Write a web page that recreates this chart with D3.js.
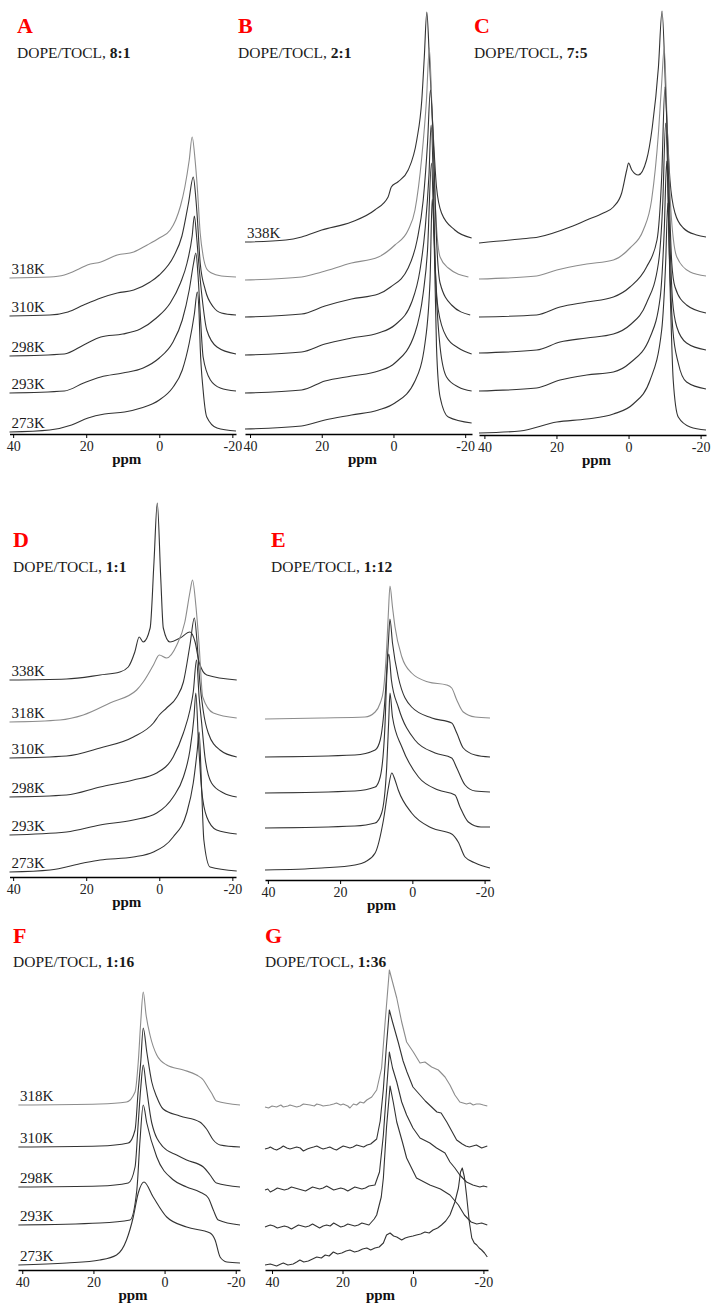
<!DOCTYPE html>
<html>
<head>
<meta charset="utf-8">
<script src="https://cdn.jsdelivr.net/npm/d3@7"></script>
<style>
  body { margin: 0; background: #fff; }
  svg { display: block; font-family: "Liberation Serif", "Times New Roman", serif; }
</style>
</head>
<body>
<script>
// 31P NMR spectra, [ppm, intensity]

// A: DOPE/TOCL 8:1
const specA318 = [[41,0],[30,1],[26,3],[22,9],[19.7,13],[16,16],[11.5,23],[7,26],[3.3,33],[0,40],[-3,48],[-4.5,58],[-5.8,72],[-7,91],[-8.2,118],[-9,141],[-9.8,118],[-10.4,91],[-11.2,45],[-12,22],[-13,9],[-14.3,5],[-17,2],[-21,1]];
const specA310 = [[41,0],[30,1],[25,4],[20.7,11],[16,18],[11.5,23],[7,26],[2.5,34],[0,41],[-4,60],[-6.2,80],[-8,113],[-9.3,139],[-10,118],[-10.4,99],[-11.2,53],[-12.6,26],[-14.8,9],[-17,3],[-21,1]];
const specA298 = [[41,0],[26,2],[20.7,11],[16,19],[10,22],[5.2,27],[0.8,38],[-3,53],[-5.8,73],[-7.6,93],[-9,120],[-9.6,140],[-10.2,120],[-10.8,93],[-11.7,59],[-13,26],[-15.8,9],[-21,2]];
const specA293 = [[41,0],[26,2],[20.7,10],[16,16],[10,20],[4.4,25],[0,35],[-3.6,50],[-6.3,73],[-8.2,103],[-9.4,130],[-10,140],[-10.6,118],[-11.2,80],[-12,36],[-14,13],[-16.7,5],[-21,2]];
const specA273 = [[41,0],[30,2],[24,7],[19.5,14],[15,18],[9.5,20],[5,24],[0,32],[-3.6,44],[-6.3,62],[-8.2,89],[-9.6,118],[-10.4,140],[-10.9,118],[-11.2,85],[-12,42],[-13,15],[-15.8,4],[-21,1]];
const offsetsA = [156, 118, 78, 41, 2];

// B: DOPE/TOCL 2:1
const specB338 = [[41.4,0],[30,2],[25.6,5],[20,12],[11.7,20],[5.2,32],[1.5,45],[0.6,55],[-1.2,60],[-4.1,72],[-6.5,102],[-7.9,142],[-8.6,185],[-9.3,230],[-10,185],[-10.6,142],[-11.2,100],[-12,55],[-13.4,29],[-17.1,12],[-21.8,4]];
const specB318 = [[41.4,0],[25.6,3],[20,8],[11.7,17],[4.2,23],[-0.4,35],[-4.1,50],[-6,70],[-7.9,123],[-9.2,180],[-10,232],[-10.8,163],[-11.6,80],[-13,23],[-15.3,12],[-20.9,3]];
const specB310 = [[41.4,0],[25.6,3],[19.1,11],[11.7,18],[4.2,23],[0.8,30],[-4.1,49],[-6.6,77],[-8.3,117],[-9.5,174],[-10.3,227],[-11.2,167],[-11.9,87],[-13,34],[-16.2,12],[-21.4,2]];
const specB298 = [[41.4,0],[25.6,3],[19.1,11],[11.7,17],[4.2,22],[-0.4,30],[-5.1,53],[-7.4,85],[-8.8,125],[-9.9,180],[-10.5,230],[-11.2,160],[-11.6,92],[-12.5,45],[-14.8,18],[-18.1,7],[-21.8,1]];
const specB293 = [[41.4,0],[25.6,3],[19.1,12],[11.7,17],[4.2,22],[-0.4,30],[-6,60],[-8.3,100],[-9.5,143],[-10.6,230],[-11.3,160],[-12,96],[-13,46],[-14.8,16],[-18.1,6],[-21.8,2]];
const specB273 = [[41.4,0],[25.6,3],[19.1,9],[11.7,14],[4.2,19],[-0.4,26],[-6,48],[-8.8,86],[-10.2,149],[-10.8,230],[-11.4,179],[-12,82],[-13,32],[-15.3,12],[-21.8,6]];
const offsetsB = [192, 154, 117, 79, 41, 5];

// C: DOPE/TOCL 7:5
const specC338 = [[41.5,0],[30,4],[25,6],[16.2,16],[11.6,23],[7,30],[4.2,36],[1.9,50],[0.5,73],[0,80],[-0.9,73],[-2.7,68],[-5,83],[-6.6,116],[-8.3,176],[-9.3,232],[-10.4,143],[-11.5,63],[-12.9,30],[-15.2,15],[-18.9,8],[-21.5,6]];
const specC318 = [[41.5,0],[25.5,3],[19.9,9],[11.6,15],[4.2,19],[-0.4,31],[-4.1,49],[-6.4,79],[-8.3,146],[-9.2,196],[-9.9,231],[-10.8,146],[-11.7,72],[-13.4,22],[-17.1,7],[-21.5,3]];
const specC310 = [[41.5,0],[25.5,2],[19,10],[11.6,15],[4.2,20],[-0.4,30],[-5,50],[-7.9,77],[-9.2,140],[-10.1,230],[-11.1,140],[-12,54],[-12.9,30],[-16.1,12],[-21.5,4]];
const specC298 = [[41.5,0],[25.5,3],[19,11],[11.6,15],[4.2,19],[-0.4,28],[-5,50],[-8.3,90],[-9.5,150],[-10.3,230],[-11.2,140],[-12.2,53],[-13.4,26],[-16.1,10],[-21.5,3]];
const specC293 = [[41.5,0],[25.5,3],[19,11],[11.6,16],[4.2,19],[-0.4,28],[-6,54],[-8.8,94],[-9.9,160],[-10.6,230],[-11.3,140],[-12.3,61],[-13.8,28],[-16.1,9],[-21.5,2]];
const specC273 = [[41.5,0],[30.1,2],[19.9,11],[11.6,14],[4.2,19],[-1.3,29],[-6,53],[-9.2,103],[-10.3,170],[-10.9,230],[-11.5,150],[-12.4,53],[-13.8,16],[-17.1,6],[-21.5,3]];
const offsetsC = [192, 156, 118, 82, 44, 2];

// D: DOPE/TOCL 1:1
const specD338 = [[41,0],[25.4,1],[16.2,5],[10.8,8],[8.5,13],[6.7,28],[5.5,43],[4.4,38],[2.5,52],[1.45,118],[0.55,177],[-0.4,102],[-1.1,52],[-2.9,38],[-5.7,42],[-8.4,48],[-9.8,38],[-10.9,18],[-13,5],[-21.2,0]];
const specD318 = [[41,0],[27.2,2],[20.8,7],[13.5,19],[6.2,32],[4.4,40],[1.6,57],[0,67],[-2,64],[-4.8,77],[-7,100],[-8.4,130],[-9.1,142],[-10,117],[-10.9,77],[-11.9,25],[-14.8,9],[-21.2,4]];
const specD310 = [[41,0],[25.4,2],[16.2,10],[7.1,21],[1.6,35],[0,43],[-2,50],[-4.8,61],[-6.6,76],[-8.4,113],[-9.6,140],[-10.4,113],[-11.1,76],[-12,48],[-13.4,25],[-16.6,8],[-21.2,1]];
const specD298 = [[41,0],[25.4,2],[16.2,10],[7.1,17],[0.7,24],[-3.8,40],[-6.6,64],[-8.4,87],[-9.3,105],[-10.2,137],[-10.9,100],[-11.6,74],[-12.5,40],[-14.3,14],[-17.6,4],[-21.2,0]];
const specD293 = [[41,0],[25.4,3],[16.2,10],[7.1,15],[0.7,22],[-3.8,38],[-6.6,58],[-8.4,85],[-9.5,118],[-10,142],[-10.7,95],[-11.6,45],[-13,18],[-15.7,5],[-21.2,1]];
const specD273 = [[41,0],[29.9,2],[20.8,9],[16.2,12],[7.1,15],[1.6,20],[-3.8,35],[-7.5,59],[-9.3,89],[-10.4,122],[-10.9,140],[-11.6,82],[-12.2,32],[-13.9,5],[-21.2,1]];
const offsetsD = [197, 155, 119, 80, 42, 5];

// E: DOPE/TOCL 1:12
const specE318 = [[40.8,0],[25.1,1],[13.1,2],[10.3,7],[8.9,16],[8,29],[7.1,72],[6.6,109],[6.2,133],[5.5,112],[4.8,92],[2.9,62],[0.2,46],[-4.4,37],[-9.5,34],[-10.9,31],[-12.3,19],[-14.1,7],[-17.4,2],[-21.5,1]];
const specE310 = [[40.8,0],[15.9,2],[10.3,7],[8.9,17],[7.6,57],[6.6,117],[6.2,138],[5.5,114],[3.9,80],[0.2,50],[-5.4,39],[-10.9,34],[-12.3,24],[-14.1,9],[-17.4,2],[-21.5,0]];
const specE298 = [[40.8,0],[15.9,2],[10.3,6],[8.9,16],[7.6,66],[7,123],[6.5,139],[5.8,113],[3.9,86],[-0.7,53],[-6.3,40],[-10.9,35],[-12.3,25],[-14.6,8],[-17.4,2],[-21.5,1]];
const specE293 = [[40.8,0],[15.9,2],[10.3,5],[8.5,15],[7.1,61],[6.5,111],[6.2,135],[5.5,111],[2.9,81],[-1.7,51],[-7.2,38],[-11.8,33],[-13.2,21],[-15.5,6],[-19,1],[-21.5,1]];
const specE273 = [[40.8,0],[25.1,2],[15.9,5],[13.1,8],[10.3,17],[8,50],[6.6,83],[5.7,97],[4.8,90],[3.9,80],[0.2,57],[-5.4,42],[-10.9,36],[-12.7,28],[-14.6,13],[-17.4,7],[-21.5,2]];
const offsetsE = [161, 123, 87, 52, 10];

// F: DOPE/TOCL 1:16
const specF318 = [[41.1,0],[18.2,1],[10.7,3],[8.3,13],[7.4,43],[6.7,83],[6,113],[5.2,90],[4.1,70],[2.2,50],[-0.6,40],[-5.3,35],[-9,30],[-10.9,25],[-12.3,17],[-13.2,12],[-14.6,4],[-21.2,0]];
const specF310 = [[41.1,0],[18.2,1],[10.2,4],[8.3,17],[7.4,57],[6.7,85],[6,119],[5,95],[3.6,65],[2.2,50],[0.4,38],[-4.3,31],[-9.9,25],[-11.8,18],[-13.7,7],[-15.6,2],[-21.2,0]];
const specF298 = [[41.1,0],[18.2,1],[10.2,4],[8.3,20],[7.4,64],[6.7,99],[6,122],[5.2,102],[3.6,64],[0.4,40],[-3.4,32],[-6.2,27],[-10.9,20],[-12.8,12],[-14.6,4],[-21.2,0]];
const specF293 = [[41.1,0],[18.2,2],[9.7,5],[7.8,35],[6.9,85],[6,120],[5,102],[2.2,68],[-2.5,45],[-6.2,38],[-9.9,33],[-12.3,27],[-13.7,15],[-15.1,5],[-21.2,0]];
const specF273 = [[41.1,0],[27.5,2],[18.2,5],[13.5,10],[10.7,25],[8.8,48],[7.4,72],[5.8,83],[3.2,68],[-0.6,48],[-6.2,38],[-12.8,32],[-14.2,25],[-15.6,8],[-17.5,3],[-21.2,2]];
const offsetsF = [165, 123, 83, 45, 5];

// G: DOPE/TOCL 1:36 (noisy)
const specG318 = [[42,0],[41,-1],[40,1],[38.7,0],[37.5,2],[36.8,0],[35.5,1],[34.9,2],[33,0],[32,1],[31.1,3],[29.2,2],[28,1],[27.3,3],[26.2,2],[25.5,1],[23.6,2],[22.5,3],[21.7,4],[20.5,2],[19.8,3],[18.5,1],[17.9,-1],[16.9,3],[16,2],[15,5],[14,4],[13.1,7],[11.7,10],[10.3,17],[8.9,39],[7.9,85],[6.7,137],[5.8,125],[4.6,109],[3.2,85],[1.8,65],[-0.1,55],[-2,44],[-3.4,45],[-5.3,40],[-7.2,37],[-9.1,30],[-10.5,22],[-11.9,12],[-13.3,5],[-15.2,3],[-16.2,4],[-17.1,2],[-18,3],[-19,3],[-20,2],[-21.1,1]];
const specG310 = [[42,0],[41,1],[40.5,2],[39.5,0],[38.7,-1],[37.6,1],[36.8,3],[35.8,1],[34.9,0],[33,2],[32,1],[31.1,-2],[30,0],[29.2,1],[28.2,2],[27.3,3],[26.2,1],[25.5,0],[24.5,1],[23.6,2],[22.5,0],[21.7,-1],[20.8,1],[19.8,3],[18.8,2],[17.9,1],[17,2],[16,4],[15,3],[14,2],[13,4],[12,5],[10.3,10],[9.3,28],[8.4,60],[7.6,100],[6.7,139],[5.8,127],[4.2,107],[2.8,88],[1.7,77],[0,62],[-2,54],[-3.5,48],[-5,43],[-6.8,37],[-8,36],[-9.6,27],[-11,18],[-12.4,9],[-14,5],[-15,3],[-16,2],[-17,3],[-18,4],[-19.5,1],[-20.3,2],[-21.1,3]];
const specG298 = [[42,0],[41.2,1],[40.5,-2],[39.4,0],[38.5,2],[37.5,1],[36.5,0],[35.5,1],[34.5,3],[33.5,2],[32.5,1],[31.5,0],[30.5,-1],[29.5,1],[28.5,3],[27.5,2],[26.5,1],[25.5,2],[24.5,4],[23.5,2],[22.5,0],[21.5,1],[20.5,2],[19.5,1],[18.5,-1],[17.5,1],[16.5,3],[15.5,2],[14.5,1],[13.5,2],[12.5,4],[10.8,5],[9.5,18],[8.4,55],[7.5,100],[6.7,138],[5.8,122],[4.6,108],[3.2,88],[1.8,75],[0,62],[-2,52],[-4.8,47],[-6.7,42],[-9.1,37],[-10.5,28],[-11.9,22],[-13.3,15],[-15.2,8],[-17,5],[-18,4],[-19,3],[-20,4],[-21.1,3]];
const specG293 = [[42,0],[41.3,1],[40.5,2],[39.5,1],[38.5,-1],[37.5,0],[36.5,1],[35.5,0],[34.5,-2],[33.5,0],[32.5,2],[31.5,1],[30.5,0],[29.5,1],[28.5,3],[27.5,1],[26.5,-1],[25.5,1],[24.5,2],[23.5,1],[22.5,4],[21.5,2],[20.5,0],[19.5,1],[18.5,3],[17.5,2],[16.5,1],[15.5,2],[14.5,4],[13.5,3],[12.5,2],[11,8],[10.3,12],[9,30],[8.4,49],[7.5,100],[6.5,141],[5.6,125],[4.6,105],[3,85],[1.8,69],[-1,49],[-4.8,42],[-7.8,38],[-10.5,32],[-12.9,22],[-14.6,12],[-16.5,5],[-18.1,3],[-19.5,4],[-21.1,2]];
const specG273 = [[42,0],[40.5,1],[38.7,-1],[37.5,1],[36.8,2],[35.5,0],[34,1],[33,3],[32.1,5],[31,3],[29.7,4],[28.5,6],[27.3,8],[26,7],[24.9,10],[23.8,9],[22.6,13],[21.4,11],[20.2,12],[19,14],[17.9,15],[16.6,13],[15.5,14],[14.3,16],[13.1,17],[12,15],[10.8,17],[9.6,18],[8.4,22],[7.5,30],[6.5,32],[5.5,29],[4.6,28],[3.2,25],[2.2,27],[1.3,28],[0,29],[-1,30],[-2.2,31],[-3.4,33],[-4.6,32],[-5.7,35],[-7,37],[-8.1,40],[-9.3,44],[-10.5,50],[-11.9,63],[-12.9,77],[-13.5,93],[-14,97],[-14.6,88],[-15.2,70],[-16,43],[-16.7,27],[-17.4,22],[-18.1,20],[-18.8,17],[-19.5,15],[-20.3,12],[-21.1,8]];
const offsetsG = [163, 121, 80, 43, 5];

const temps6 = ["338K", "318K", "310K", "298K", "293K", "273K"];
const temps5 = ["318K", "310K", "298K", "293K", "273K"];
const tickVals = [40, 20, 0, -20];

const width = 711, height = 1306;
const darkLine = "#333333", grayLine = "#8c8c8c";

const svg = d3.select("body").append("svg")
    .attr("width", width)
    .attr("height", height);

svg.append("rect").attr("width", width).attr("height", height).attr("fill", "#fff");

// panel layout
const panels = [
    { letter: "A", ratio: "8:1", left: 9.5, right: 236, dom: [41, -21], axisY: 434, lx: 17, ly: 33, ty: 58,
      temps: temps5, specs: [specA318, specA310, specA298, specA293, specA273], offsets: offsetsA, labels: "all" },
    { letter: "B", ratio: "2:1", left: 245, right: 472, dom: [41.4, -21.9], axisY: 434, lx: 238, ly: 33, ty: 58,
      temps: temps6, specs: [specB338, specB318, specB310, specB298, specB293, specB273], offsets: offsetsB, labels: "338K" },
    { letter: "C", ratio: "7:5", left: 479, right: 706, dom: [41.5, -21.5], axisY: 435, lx: 474, ly: 33, ty: 58,
      temps: temps6, specs: [specC338, specC318, specC310, specC298, specC293, specC273], offsets: offsetsC, labels: "none" },
    { letter: "D", ratio: "1:1", left: 9.5, right: 236, dom: [41, -21], axisY: 877, lx: 13, ly: 547, ty: 572,
      temps: temps6, specs: [specD338, specD318, specD310, specD298, specD293, specD273], offsets: offsetsD, labels: "all" },
    { letter: "E", ratio: "1:12", left: 265, right: 490, dom: [40.8, -21.5], axisY: 880, lx: 271, ly: 547, ty: 572,
      temps: temps5, specs: [specE318, specE310, specE298, specE293, specE273], offsets: offsetsE, labels: "none" },
    { letter: "F", ratio: "1:16", left: 18, right: 240, dom: [41.2, -21.2], axisY: 1270, lx: 13, ly: 943, ty: 967,
      temps: temps5, specs: [specF318, specF310, specF298, specF293, specF273], offsets: offsetsF, labels: "all" },
    { letter: "G", ratio: "1:36", left: 265, right: 488, dom: [42, -21.3], axisY: 1270, lx: 265, ly: 943, ty: 967,
      temps: temps5, specs: [specG318, specG310, specG298, specG293, specG273], offsets: offsetsG, labels: "none", noisy: true }
];

panels.forEach(p => {
    const g = svg.append("g");
    const x = d3.scaleLinear().domain(p.dom).range([p.left, p.right]);
    const y = d3.scaleLinear().domain([0, 300]).range([p.axisY, p.axisY - 300]);

    // letter + composition
    g.append("text")
        .attr("x", p.lx).attr("y", p.ly)
        .attr("fill", "#ff0000")
        .attr("font-size", 22).attr("font-weight", "bold")
        .text(p.letter);
    const t = g.append("text")
        .attr("x", p.lx).attr("y", p.ty)
        .attr("fill", "#1a1a1a")
        .attr("font-size", 15.5);
    t.append("tspan").text("DOPE/TOCL, ");
    t.append("tspan").attr("font-weight", "bold").text(p.ratio);

    const line = d3.line()
        .x(d => x(d[0]))
        .curve(p.noisy ? d3.curveLinear : d3.curveMonotoneX);

    p.specs.forEach((spec, i) => {
        const off = p.offsets[i];
        const temp = p.temps[i];
        g.append("path")
            .datum(spec)
            .attr("fill", "none")
            .attr("stroke", temp === "318K" ? grayLine : darkLine)
            .attr("stroke-width", 1.1)
            .attr("stroke-linejoin", "round")
            .attr("d", line.y(d => y(d[1] + off)));

        if (p.labels === "all" || p.labels === temp) {
            g.append("text")
                .attr("x", p.left + 2)
                .attr("y", y(off) - 4)
                .attr("font-size", 15)
                .attr("fill", "#1a1a1a")
                .text(temp);
        }
    });

    // axis
    const axis = g.append("g")
        .attr("transform", `translate(0,${p.axisY})`)
        .call(d3.axisBottom(x).tickValues(tickVals).tickSize(4).tickSizeOuter(0).tickFormat(d => String(d)));
    axis.select(".domain").attr("stroke", "#000").attr("stroke-width", 1.5);
    axis.selectAll(".tick line").attr("stroke", "#000");
    axis.selectAll(".tick text")
        .attr("font-family", "Liberation Serif, serif")
        .attr("font-size", 14)
        .attr("fill", "#222");

    g.append("text")
        .attr("x", (p.left + p.right) / 2 + 4)
        .attr("y", p.axisY + 30)
        .attr("text-anchor", "middle")
        .attr("font-size", 15)
        .attr("font-weight", "bold")
        .attr("fill", "#111")
        .text("ppm");
});
</script>
</body>
</html>
